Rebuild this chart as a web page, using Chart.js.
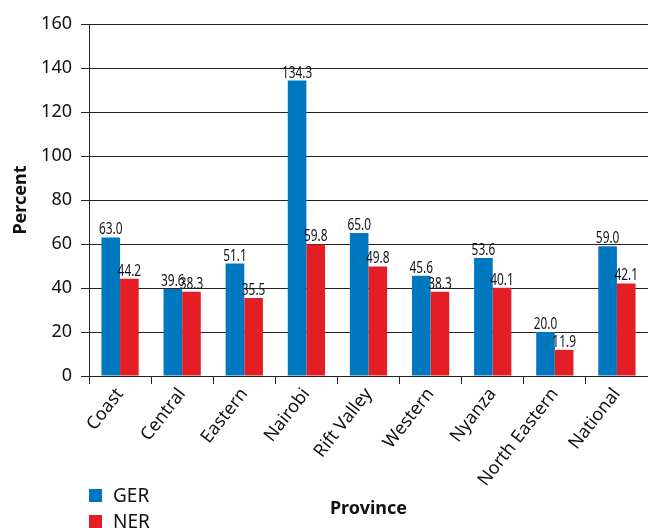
<!DOCTYPE html>
<html>
<head>
<meta charset="utf-8">
<script src="https://cdn.jsdelivr.net/npm/chart.js@4"></script>
<style>
  html, body { margin: 0; padding: 0; background: #fff; overflow: hidden; }
  #wrap { position: relative; width: 648px; height: 528px; }
  #legend { position: absolute; left: 89px; top: 482px; font-family: 'Noto Sans', sans-serif; font-size: 19px; color: #111; }
  .item { display: flex; align-items: center; height: 26px; }
  .sw { width: 13px; height: 13px; margin-right: 11px; }
</style>
</head>
<body>
<div id="wrap">
  <canvas id="c" width="648" height="528"></canvas>
  <div id="legend"></div>
</div>
<script>
const provinces = ['Coast', 'Central', 'Eastern', 'Nairobi', 'Rift Valley', 'Western', 'Nyanza', 'North Eastern', 'National'];
const gerValues = [63.0, 39.6, 51.1, 134.3, 65.0, 45.6, 53.6, 20.0, 59.0];
const nerValues = [44.2, 38.3, 35.5, 59.8, 49.8, 38.3, 40.1, 11.9, 42.1];
const seriesNames = ['GER', 'NER'];
const seriesColors = ['#0078C0', '#E31E25'];
const yTicks = [0, 20, 40, 60, 80, 100, 120, 140, 160];

const valueLabels = {
  id: 'valueLabels',
  afterDatasetsDraw(chart) {
    const ctx = chart.ctx;
    chart.data.datasets.forEach((ds, i) => {
      chart.getDatasetMeta(i).data.forEach((bar, j) => {
        ctx.save();
        ctx.font = "16.5px 'Noto Sans', sans-serif";
        ctx.fillStyle = '#111';
        ctx.textAlign = 'center';
        ctx.textBaseline = 'alphabetic';
        ctx.translate(bar.x, bar.y - 3);
        ctx.scale(0.72, 1);
        ctx.fillText(ds.data[j].toFixed(1), 0, 0);
        ctx.restore();
      });
    });
  }
};

const chart = new Chart(document.getElementById('c'), {
  type: 'bar',
  data: {
    labels: provinces,
    datasets: [
      { label: seriesNames[0], data: gerValues, backgroundColor: seriesColors[0] },
      { label: seriesNames[1], data: nerValues, backgroundColor: seriesColors[1] }
    ]
  },
  options: {
    responsive: false,
    animation: false,
    layout: { padding: { top: 24, right: 0, bottom: 0, left: 0 } },
    datasets: { bar: { categoryPercentage: 0.6, barPercentage: 1.0 } },
    plugins: { legend: { display: false }, tooltip: { enabled: false } },
    scales: {
      x: {
        grid: { offset: true, drawOnChartArea: false, drawTicks: true, tickLength: 8, color: '#222' },
        border: { color: '#222', width: 1 },
        ticks: { color: '#111', font: { family: "'Noto Sans', sans-serif", size: 18 }, minRotation: 52, maxRotation: 52, padding: 0, autoSkip: false },
        title: { display: true, text: 'Province', color: '#111', font: { family: "'Noto Sans', sans-serif", size: 18, weight: 'bold' }, padding: { top: 0, bottom: 8 } },
        afterFit(s) { s.height = 152; }
      },
      y: {
        min: 0, max: 160,
        afterBuildTicks(s) { s.ticks = yTicks.map(v => ({ value: v })); },
        grid: { color: '#222', lineWidth: 1, tickLength: 8 },
        border: { color: '#222', width: 1 },
        ticks: { color: '#111', font: { family: "'Noto Sans', sans-serif", size: 18 }, padding: 9 },
        title: { display: true, text: 'Percent', color: '#111', font: { family: "'Noto Sans', sans-serif", size: 18, weight: 'bold' }, padding: { top: 10, bottom: 0 } },
        afterFit(s) { s.width = 89; }
      }
    }
  },
  plugins: [valueLabels]
});

const legend = document.getElementById('legend');
chart.data.datasets.forEach(ds => {
  const item = document.createElement('div');
  item.className = 'item';
  const sw = document.createElement('span');
  sw.className = 'sw';
  sw.style.background = ds.backgroundColor;
  const t = document.createElement('span');
  t.textContent = ds.label;
  item.appendChild(sw);
  item.appendChild(t);
  legend.appendChild(item);
});
</script>
</body>
</html>
